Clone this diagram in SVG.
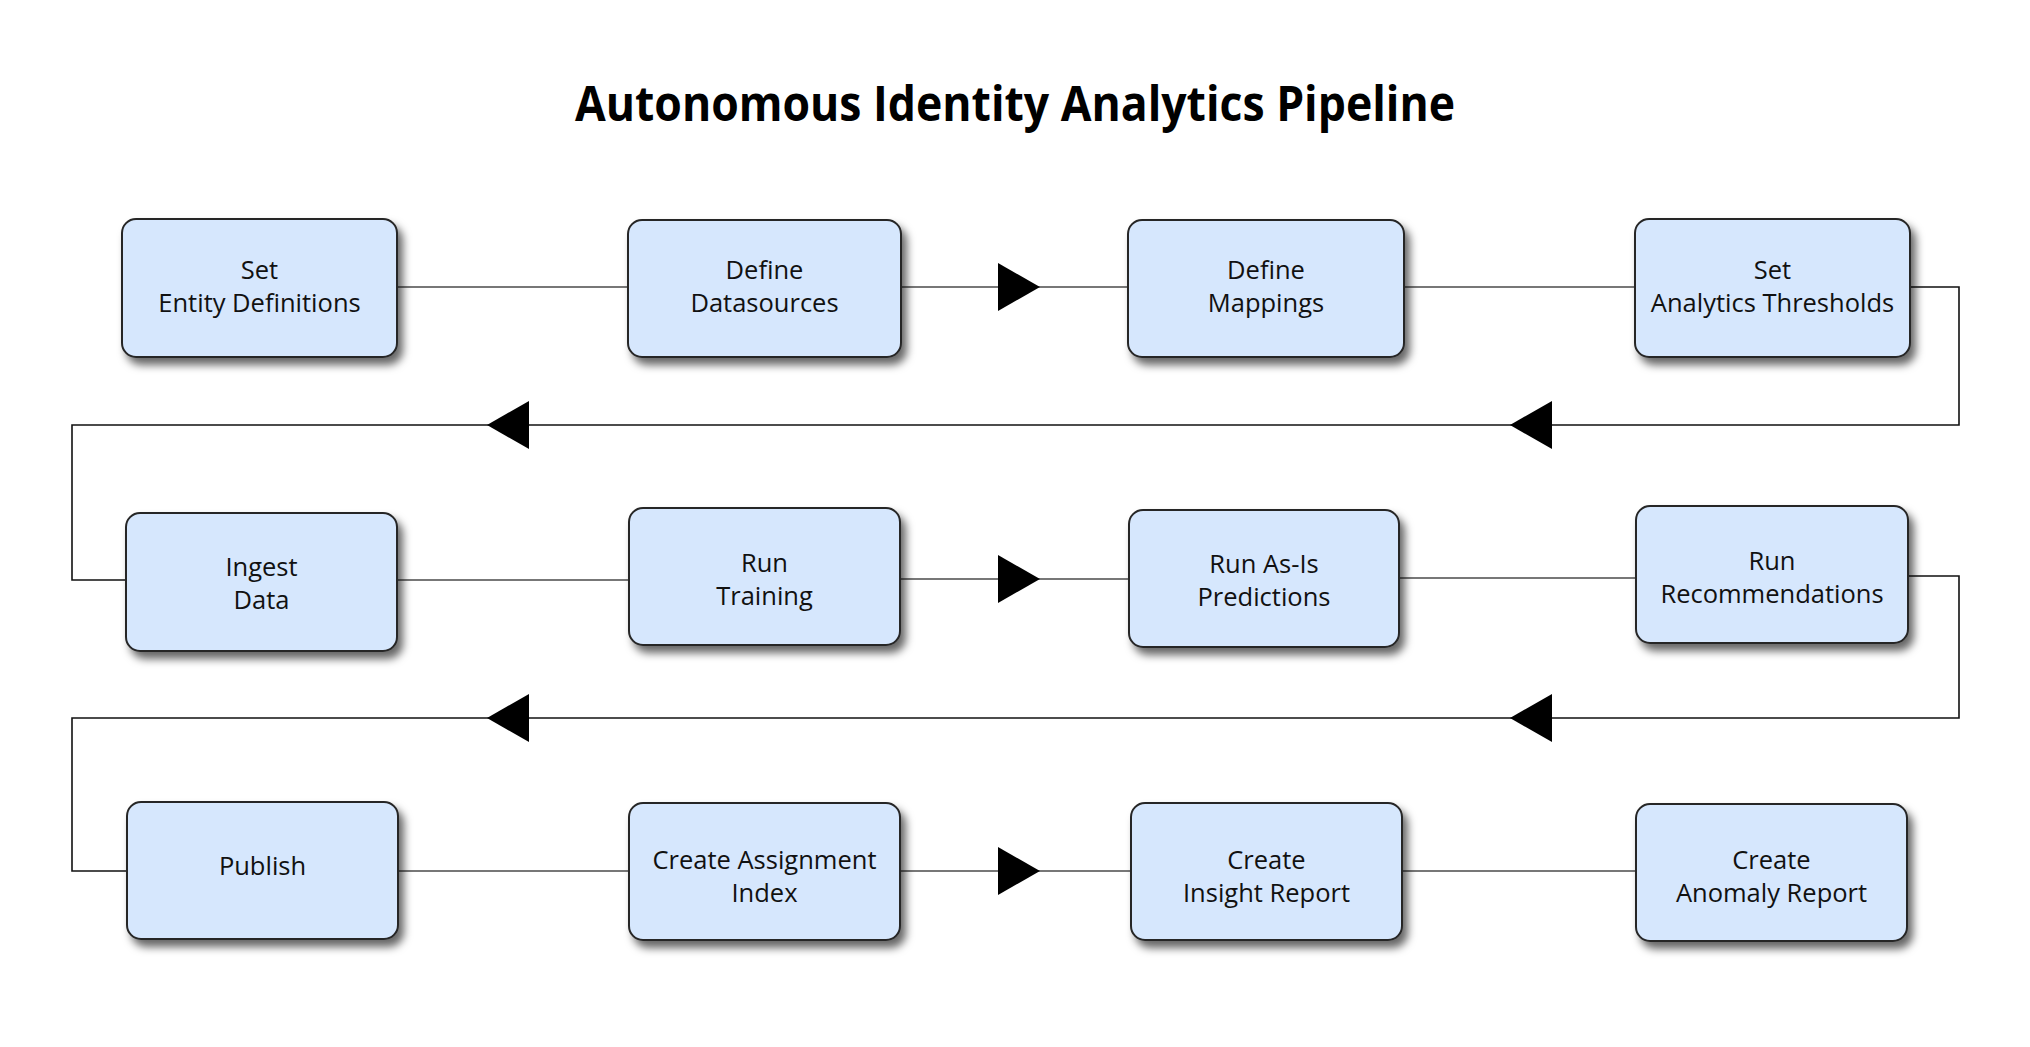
<svg xmlns="http://www.w3.org/2000/svg" width="2030" height="1047" viewBox="0 0 2030 1047">
  <defs>
    <filter id="shadow" x="-10%" y="-10%" width="125%" height="135%">
      <feDropShadow dx="5" dy="7" stdDeviation="4" flood-color="#000" flood-opacity="0.6"/>
    </filter>
    <marker id="arrow" viewBox="0 0 42 48" refX="42" refY="24" markerUnits="userSpaceOnUse" markerWidth="42" markerHeight="48" orient="auto">
      <path d="M0,0 L42,24 L0,48 Z" fill="#000"/>
    </marker>
  </defs>
  <style>
    .box { fill: #d6e7fd; stroke: #262626; stroke-width: 2; filter: url(#shadow); }
    .lbl { font-family: "Open Sans", "Liberation Sans", sans-serif; font-size: 25.5px; fill: #111; text-anchor: middle; }
    .title { font-family: "Open Sans", "Liberation Sans", sans-serif; font-size: 49px; font-weight: bold; fill: #000; }
    .flow { fill: none; stroke: #777; stroke-width: 2; }
    .loop { fill: none; stroke: #111; stroke-width: 1.6; }
  </style>
  <rect width="2030" height="1047" fill="#fff"/>
  <text class="title" x="575" y="121" textLength="880" lengthAdjust="spacingAndGlyphs">Autonomous Identity Analytics Pipeline</text>

  <g id="connectors">
    <path class="flow" d="M397,287 H628"/>
    <path class="flow" d="M901,287 H1040" marker-end="url(#arrow)"/>
    <path class="flow" d="M1040,287 H1128"/>
    <path class="flow" d="M1404,287 H1635"/>
    <path class="loop" d="M1910,287 H1959 V425 H1510" marker-end="url(#arrow)"/>
    <path class="loop" d="M1510,425 H487" marker-end="url(#arrow)"/>
    <path class="loop" d="M487,425 H72 V580 H126"/>

    <path class="flow" d="M397,580 H629"/>
    <path class="flow" d="M900,579 H1040" marker-end="url(#arrow)"/>
    <path class="flow" d="M1040,579 H1129"/>
    <path class="flow" d="M1399,578 H1636"/>
    <path class="loop" d="M1908,576 H1959 V718 H1510" marker-end="url(#arrow)"/>
    <path class="loop" d="M1510,718 H487" marker-end="url(#arrow)"/>
    <path class="loop" d="M487,718 H72 V871 H127"/>

    <path class="flow" d="M398,871 H629"/>
    <path class="flow" d="M900,871 H1040" marker-end="url(#arrow)"/>
    <path class="flow" d="M1040,871 H1131"/>
    <path class="flow" d="M1402,871 H1636"/>
  </g>

  <g id="node-set-entity-definitions">
    <rect class="box" x="122" y="219" width="275" height="138" rx="14"/>
    <text class="lbl" x="259.5" y="279">Set</text>
    <text class="lbl" x="259.5" y="312">Entity Definitions</text>
  </g>
  <g id="node-define-datasources">
    <rect class="box" x="628" y="220" width="273" height="137" rx="14"/>
    <text class="lbl" x="764.5" y="279">Define</text>
    <text class="lbl" x="764.5" y="312">Datasources</text>
  </g>
  <g id="node-define-mappings">
    <rect class="box" x="1128" y="220" width="276" height="137" rx="14"/>
    <text class="lbl" x="1266" y="279">Define</text>
    <text class="lbl" x="1266" y="312">Mappings</text>
  </g>
  <g id="node-set-analytics-thresholds">
    <rect class="box" x="1635" y="219" width="275" height="138" rx="14"/>
    <text class="lbl" x="1772.5" y="279">Set</text>
    <text class="lbl" x="1772.5" y="312">Analytics Thresholds</text>
  </g>

  <g id="node-ingest-data">
    <rect class="box" x="126" y="513" width="271" height="138" rx="14"/>
    <text class="lbl" x="261.5" y="576">Ingest</text>
    <text class="lbl" x="261.5" y="609">Data</text>
  </g>
  <g id="node-run-training">
    <rect class="box" x="629" y="508" width="271" height="137" rx="14"/>
    <text class="lbl" x="764.5" y="572">Run</text>
    <text class="lbl" x="764.5" y="605">Training</text>
  </g>
  <g id="node-run-as-is-predictions">
    <rect class="box" x="1129" y="510" width="270" height="137" rx="14"/>
    <text class="lbl" x="1264" y="573">Run As-Is</text>
    <text class="lbl" x="1264" y="606">Predictions</text>
  </g>
  <g id="node-run-recommendations">
    <rect class="box" x="1636" y="506" width="272" height="137" rx="14"/>
    <text class="lbl" x="1772" y="570">Run</text>
    <text class="lbl" x="1772" y="603">Recommendations</text>
  </g>

  <g id="node-publish">
    <rect class="box" x="127" y="802" width="271" height="137" rx="14"/>
    <text class="lbl" x="262.5" y="875">Publish</text>
  </g>
  <g id="node-create-assignment-index">
    <rect class="box" x="629" y="803" width="271" height="137" rx="14"/>
    <text class="lbl" x="764.5" y="869">Create Assignment</text>
    <text class="lbl" x="764.5" y="902">Index</text>
  </g>
  <g id="node-create-insight-report">
    <rect class="box" x="1131" y="803" width="271" height="137" rx="14"/>
    <text class="lbl" x="1266.5" y="869">Create</text>
    <text class="lbl" x="1266.5" y="902">Insight Report</text>
  </g>
  <g id="node-create-anomaly-report">
    <rect class="box" x="1636" y="804" width="271" height="137" rx="14"/>
    <text class="lbl" x="1771.5" y="869">Create</text>
    <text class="lbl" x="1771.5" y="902">Anomaly Report</text>
  </g>
</svg>
